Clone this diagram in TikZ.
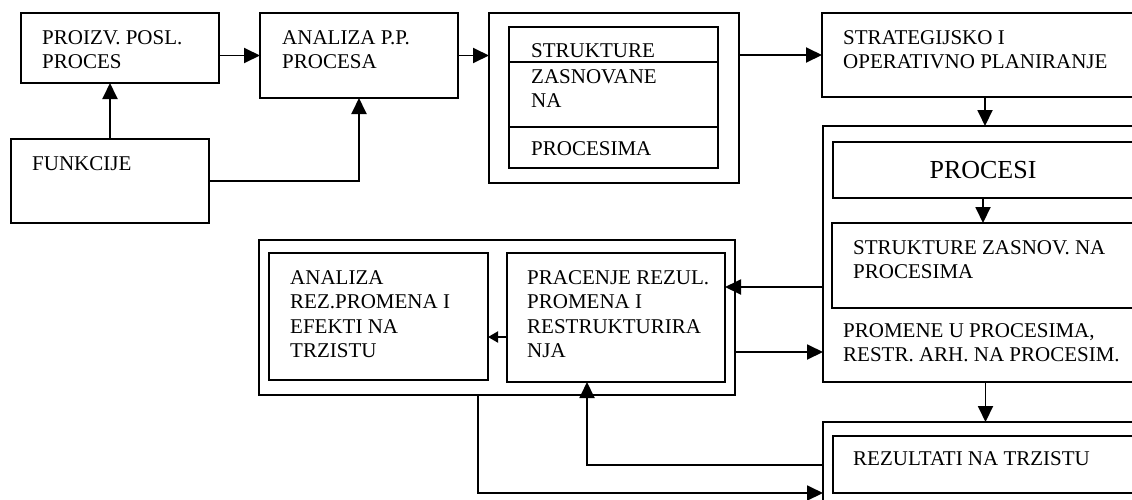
\documentclass[tikz,border=0pt]{standalone}
\usepackage{fontspec}
\setmainfont{Liberation Serif}
\usetikzlibrary{arrows.meta,calc}
\tikzset{
  box/.style={draw, line width=2.2pt, inner sep=0pt, outer sep=0pt, anchor=north west},
  txt/.style={inner sep=0pt, anchor=north west, align=left, font=\fontsize{21}{24.5}\selectfont},
  arr/.style={line width=1.9pt, -{Triangle[length=16pt,width=15pt]}},
  sarr/.style={line width=1.9pt, -{Triangle[length=10pt,width=11pt]}},
}
% box from (x1,y1) to (x2,y2), y measured downwards
\newcommand\mkbox[5]{\node[box, minimum width=#4pt-#2pt, minimum height=#5pt-#3pt] (#1) at (#2,#3) {};}
\begin{document}
\begin{tikzpicture}[x=1pt,y=-1pt]
\useasboundingbox (0,0) rectangle (1132,499);
\clip (0,0) rectangle (1132,499);

% boxes
\mkbox{proiz}{21}{13}{219}{83}
\mkbox{anal}{260}{13}{458}{98}
\mkbox{strout}{489}{13}{739}{183}
\mkbox{strin}{509}{27}{718}{168}
\mkbox{strat}{822}{13}{1148}{97}
\mkbox{funk}{11}{139}{209}{223}
\mkbox{big}{823}{126}{1148}{382}
\mkbox{proc}{833}{142}{1133}{198}
\mkbox{strz}{832}{223}{1148}{308}
\mkbox{pracout}{259}{240}{735}{395}
\mkbox{anrez}{269}{253}{488}{380}
\mkbox{prac}{507}{253}{725}{382}
\mkbox{resout}{823}{422}{1148}{520}
\mkbox{res}{833}{436}{1148}{493}

% rules inside the inner STRUKTURE box
\draw[line width=1.9pt] (strin.west |- 0,62) -- (strin.east |- 0,62);
\draw[line width=1.9pt] (strin.west |- 0,127) -- (strin.east |- 0,127);

% texts
\node[txt] (tproiz) at (42,30) {PROIZV. POSL.\\PROCES};
\node[txt] (tanal) at (282,30) {ANALIZA P.P.\\PROCESA};
\node[txt] (tstr1) at (531,43) {STRUKTURE};
\node[txt] (tstr2) at (531,69) {ZASNOVANE\\NA};
\node[txt] (tstr3) at (531,141) {PROCESIMA};
\node[txt] (tstrat) at (843,30) {STRATEGIJSKO I\\OPERATIVNO PLANIRANJE};
\node[txt] (tfunk) at (32,156) {FUNKCIJE};
\node[inner sep=0pt, font=\fontsize{26}{30}\selectfont] (tproc) at (983,170) {PROCESI};
\node[txt] (tstrz) at (853,240) {STRUKTURE ZASNOV. NA\\PROCESIMA};
\node[txt] (tprom) at (843,323) {PROMENE U PROCESIMA,\\RESTR. ARH. NA PROCESIM.};
\node[txt] (tres) at (853,451) {REZULTATI NA TRZISTU};
\node[txt] (tanrez) at (290,270) {ANALIZA\\REZ.PROMENA I\\EFEKTI NA\\TRZISTU};
\node[txt] (tprac) at (527,270) {PRACENJE REZUL.\\PROMENA I\\RESTRUKTURIRA\\NJA};

% connector levels
\coordinate (p1) at (0,287);
\coordinate (p2) at (0,352);
\coordinate (p3) at (0,337);
\coordinate (c1) at (478,493);
\coordinate (c2) at (587,465);

% connectors
\draw[arr] (anal.west -| proiz.east) -- (anal.west);
\draw[arr] (funk.north) -- (funk.north |- proiz.south);
\draw[arr] (funk.east) -| (anal.south);
\draw[arr] (anal.east) -- (anal.east -| strout.west);
\draw[arr] (strat.west -| strout.east) -- (strat.west);
\draw[arr] (strat.south) -- (strat.south |- big.north);
\draw[arr] (proc.south) -- (proc.south |- strz.north);
\draw[arr] (p1 -| big.west) -- (p1 -| prac.east);
\draw[arr] (p2 -| pracout.east) -- (p2 -| big.west);
\draw[sarr] (p3 -| prac.west) -- (p3 -| anrez.east);
\draw[arr] (big.south) -- (big.south |- resout.north);
\draw[arr] (pracout.south -| c1) -- (c1) -- (c1 -| resout.west);
\draw[arr] (c2 -| resout.west) -- (c2) -- (c2 |- prac.south);
\end{tikzpicture}
\end{document}
